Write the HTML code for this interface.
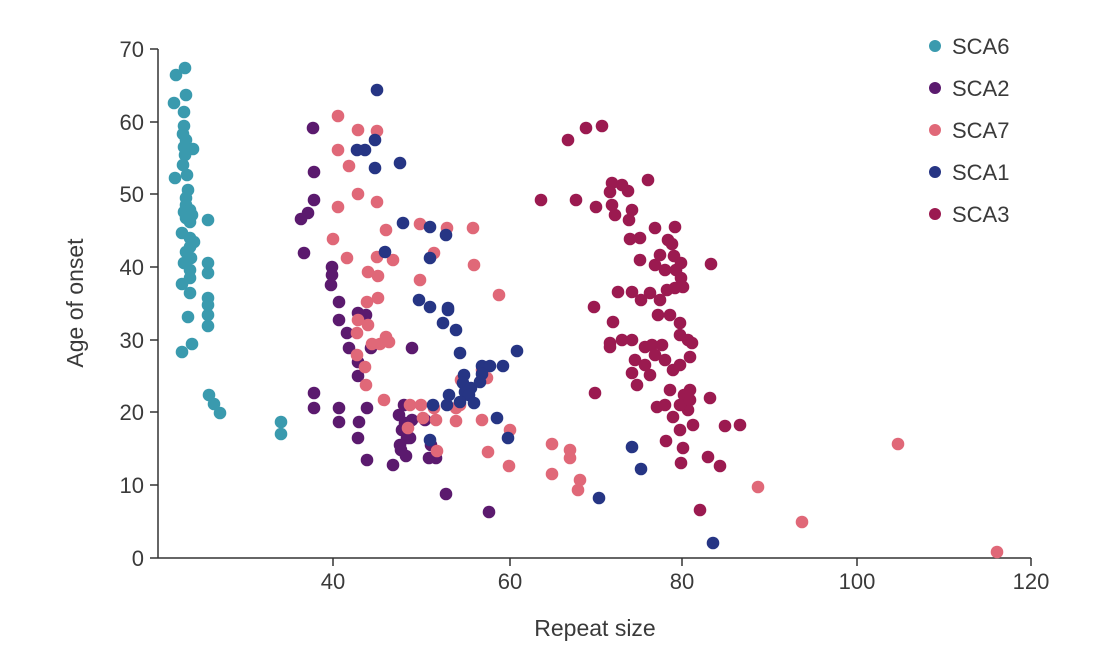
<!DOCTYPE html>
<html><head><meta charset="utf-8"><style>
body{margin:0;background:#fff;}
svg{display:block;font-family:"Liberation Sans",sans-serif;}
</style></head><body>
<svg id="s" width="1096" height="662" viewBox="0 0 1096 662" xmlns="http://www.w3.org/2000/svg">
<g stroke="#333" stroke-width="1.5" fill="none">
<line x1="158" y1="49" x2="158" y2="558"/>
<line x1="158" y1="558" x2="1031" y2="558"/>
<line x1="150" y1="49" x2="158" y2="49"/><line x1="150" y1="122" x2="158" y2="122"/><line x1="150" y1="194" x2="158" y2="194"/><line x1="150" y1="267" x2="158" y2="267"/><line x1="150" y1="340" x2="158" y2="340"/><line x1="150" y1="412" x2="158" y2="412"/><line x1="150" y1="485" x2="158" y2="485"/><line x1="150" y1="558" x2="158" y2="558"/>
<line x1="333" y1="558" x2="333" y2="566"/><line x1="510" y1="558" x2="510" y2="566"/><line x1="682" y1="558" x2="682" y2="566"/><line x1="857" y1="558" x2="857" y2="566"/><line x1="1031" y1="558" x2="1031" y2="566"/>
</g>
<g fill="#3a3a3a" font-size="22" text-anchor="end">
<text x="144" y="57">70</text><text x="144" y="130">60</text><text x="144" y="202">50</text><text x="144" y="275">40</text><text x="144" y="348">30</text><text x="144" y="420">20</text><text x="144" y="493">10</text><text x="144" y="566">0</text>
</g>
<g fill="#3a3a3a" font-size="22" text-anchor="middle">
<text x="333" y="589">40</text><text x="510" y="589">60</text><text x="682" y="589">80</text><text x="857" y="589">100</text><text x="1031" y="589">120</text>
<text x="595" y="636" font-size="23">Repeat size</text>
<text transform="translate(83,303) rotate(-90)" font-size="23">Age of onset</text>
</g>
<g id="pts"></g>
<g font-size="22" fill="#3a3a3a">
<circle cx="935" cy="46" r="6" fill="#3a9aae"/><text x="952" y="54">SCA6</text>
<circle cx="935" cy="88" r="6" fill="#5b1a6e"/><text x="952" y="96">SCA2</text>
<circle cx="935" cy="130" r="6" fill="#e06878"/><text x="952" y="138">SCA7</text>
<circle cx="935" cy="172" r="6" fill="#263584"/><text x="952" y="180">SCA1</text>
<circle cx="935" cy="214" r="6" fill="#9b1a50"/><text x="952" y="222">SCA3</text>
</g>
</svg>
<script>
var D={
"#3a9aae":[[185,68],[176,75],[186,95],[174,103],[184,112],[184,126],[183,134],[186,140],[184,147],[193,149],[185,155],[183,165],[187,175],[175,178],[188,190],[186,198],[186,205],[190,210],[184,212],[192,215],[186,218],[208,220],[190,222],[182,233],[190,238],[194,242],[190,247],[186,252],[191,258],[184,263],[208,263],[190,270],[208,273],[190,278],[182,284],[190,293],[208,298],[208,305],[208,315],[188,317],[208,326],[192,344],[182,352],[209,395],[214,404],[220,413],[281,422],[281,434]],
"#5b1a6e":[[313,128],[314,172],[314,200],[308,213],[301,219],[304,253],[332,267],[332,275],[331,285],[339,302],[339,320],[347,333],[349,348],[358,362],[358,376],[371,348],[412,348],[314,393],[314,408],[339,408],[339,422],[359,422],[367,408],[358,438],[367,460],[393,465],[399,415],[405,423],[402,430],[407,438],[406,456],[401,450],[410,438],[431,445],[429,458],[436,458],[446,494],[489,512],[358,313],[366,315],[404,405],[412,420],[400,445],[425,420]],
"#e06878":[[338,116],[358,130],[377,131],[338,150],[349,166],[358,194],[377,202],[338,207],[386,230],[333,239],[347,258],[377,257],[393,260],[420,224],[447,228],[434,253],[473,228],[474,265],[420,280],[368,272],[378,276],[367,302],[378,298],[358,320],[368,325],[357,333],[372,344],[380,344],[389,342],[386,337],[357,355],[365,367],[366,385],[384,400],[410,405],[421,405],[434,408],[456,408],[436,420],[423,418],[408,428],[437,451],[456,421],[499,295],[482,370],[487,378],[461,380],[482,420],[510,430],[488,452],[509,466],[552,444],[570,450],[570,458],[552,474],[580,480],[578,490],[758,487],[802,522],[898,444],[997,552],[460,405]],
"#263584":[[377,90],[375,140],[365,150],[357,150],[400,163],[375,168],[385,252],[403,223],[430,227],[430,258],[446,235],[419,300],[430,307],[448,310],[443,323],[456,330],[460,353],[448,308],[464,375],[463,383],[465,392],[471,388],[469,395],[460,402],[482,366],[490,366],[482,374],[503,366],[517,351],[480,382],[447,405],[433,405],[449,395],[474,403],[497,418],[508,438],[599,498],[632,447],[641,469],[713,543],[430,440]],
"#9b1a50":[[568,140],[586,128],[602,126],[541,200],[576,200],[612,183],[622,185],[610,192],[628,191],[612,205],[596,207],[615,215],[632,210],[629,220],[648,180],[630,239],[640,238],[655,228],[668,240],[675,227],[672,244],[640,260],[655,265],[660,255],[674,256],[681,263],[665,270],[676,270],[618,292],[632,292],[641,300],[650,293],[660,300],[667,290],[675,288],[681,278],[683,287],[594,307],[613,322],[658,315],[670,315],[680,323],[610,343],[622,340],[632,340],[645,347],[652,345],[655,355],[662,345],[680,335],[688,340],[692,343],[690,357],[610,347],[635,360],[637,385],[632,373],[645,365],[650,375],[665,360],[673,370],[680,365],[670,390],[684,395],[690,390],[688,410],[680,405],[690,400],[673,417],[657,407],[665,405],[693,425],[680,430],[710,398],[725,426],[740,425],[666,441],[683,448],[708,457],[720,466],[700,510],[681,463],[711,264],[595,393]]};
var g=document.getElementById("pts"),h="";
for(var c in D)D[c].forEach(function(p){h+='<circle cx="'+p[0]+'" cy="'+p[1]+'" r="6.3" fill="'+c+'"/>';});
g.innerHTML=h;
</script>
</body></html>
